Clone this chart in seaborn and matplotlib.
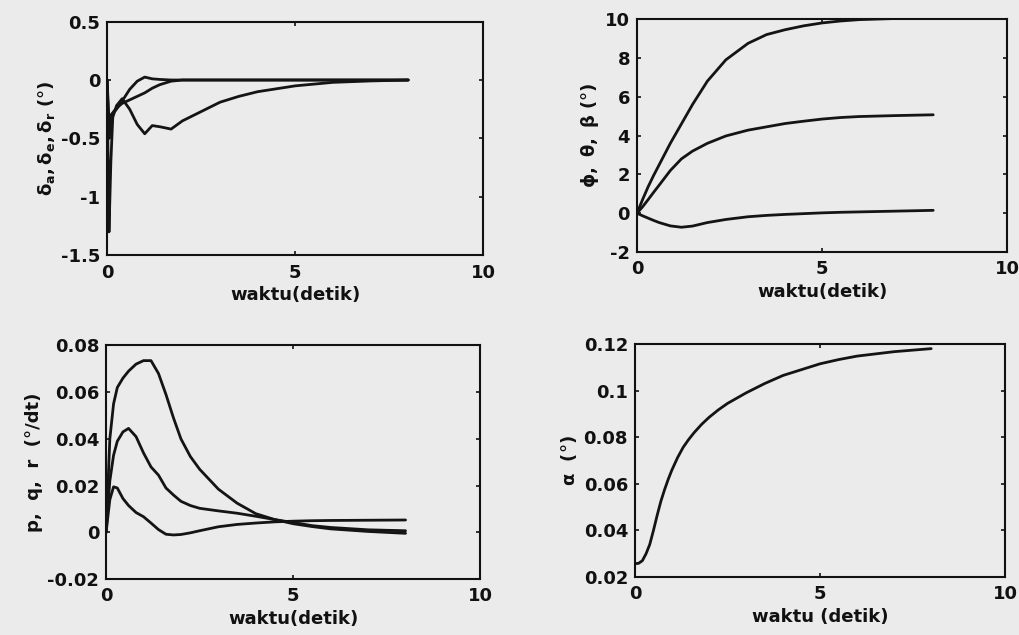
import numpy as np
import pandas as pd
import matplotlib
matplotlib.use("Agg")
import matplotlib.pyplot as plt
import seaborn as sns

# ---- data ----
t1 = [0, 0.05, 0.1, 0.15, 0.25, 0.4, 0.6, 0.8, 1.0, 1.2, 1.4, 1.7, 2.0, 2.5, 3.0, 3.5, 4.0, 5.0, 6.0, 7.0, 8.0]
delta_a = [0, -1.3, -0.7, -0.32, -0.22, -0.16, -0.25, -0.38, -0.46, -0.39, -0.40, -0.42, -0.35, -0.27, -0.19, -0.14, -0.10, -0.05, -0.02, -0.008, 0.0]
delta_e = [0, -0.5, -0.32, -0.29, -0.25, -0.18, -0.08, -0.01, 0.025, 0.01, 0.005, 0.0, 0, 0, 0, 0, 0, 0, 0, 0, 0]
delta_r = [0, -0.35, -0.30, -0.28, -0.24, -0.20, -0.17, -0.14, -0.11, -0.07, -0.04, -0.01, 0, 0, 0, 0, 0, 0, 0, 0, 0]

t2 = [0, 0.15, 0.3, 0.45, 0.6, 0.9, 1.2, 1.5, 1.9, 2.4, 3.0, 3.5, 4.0, 4.5, 5.0, 5.5, 6.0, 7.0, 8.0]
phi = [0, 0.7, 1.36, 1.95, 2.5, 3.6, 4.6, 5.6, 6.8, 7.9, 8.75, 9.2, 9.45, 9.65, 9.8, 9.9, 9.97, 10.03, 10.06]
theta = [0, 0.33, 0.7, 1.08, 1.45, 2.2, 2.8, 3.2, 3.6, 3.98, 4.28, 4.45, 4.62, 4.74, 4.85, 4.93, 4.98, 5.03, 5.07]
beta = [0, -0.13, -0.25, -0.37, -0.48, -0.65, -0.72, -0.66, -0.48, -0.32, -0.18, -0.11, -0.06, -0.02, 0.02, 0.05, 0.07, 0.11, 0.15]

t3 = [0, 0.1, 0.2, 0.3, 0.45, 0.6, 0.8, 1.0, 1.2, 1.4, 1.6, 1.8, 2.0, 2.25, 2.5, 3.0, 3.5, 4.0, 4.5, 5.0, 5.5, 6.0, 7.0, 8.0]
p_rate = [0, 0.04, 0.055, 0.062, 0.066, 0.069, 0.072, 0.0735, 0.0735, 0.068, 0.059, 0.049, 0.04, 0.0325, 0.027, 0.0185, 0.0125, 0.008, 0.0055, 0.0037, 0.0025, 0.0015, 0.0004, -0.0004]
q_rate = [0, 0.022, 0.033, 0.039, 0.043, 0.0445, 0.041, 0.034, 0.028, 0.0245, 0.019, 0.016, 0.0133, 0.0115, 0.0103, 0.0092, 0.0082, 0.0069, 0.0055, 0.0042, 0.0029, 0.0021, 0.0011, 0.0007]
r_rate = [0, 0.014, 0.0195, 0.019, 0.0145, 0.0115, 0.0085, 0.0067, 0.004, 0.0012, -0.0008, -0.0011, -0.0009, -0.0002, 0.0007, 0.0024, 0.0034, 0.004, 0.0045, 0.0048, 0.005, 0.0051, 0.0052, 0.0053]

t4 = [0, 0.1, 0.2, 0.3, 0.4, 0.5, 0.6, 0.7, 0.8, 0.9, 1.0, 1.15, 1.3, 1.45, 1.6, 1.8, 2.0, 2.25, 2.5, 3.0, 3.5, 4.0, 4.5, 5.0, 5.5, 6.0, 7.0, 8.0]
alpha = [0.0257, 0.0259, 0.027, 0.030, 0.034, 0.040, 0.0465, 0.0525, 0.0575, 0.062, 0.066, 0.0712, 0.0756, 0.079, 0.082, 0.0855, 0.0885, 0.0917, 0.0945, 0.099, 0.103, 0.1065, 0.109, 0.1115, 0.1133, 0.1148, 0.1167, 0.118]

xticks = [0, 5, 10]
yticks_tl = [-1.5, -1, -0.5, 0, 0.5]
yticks_tr = [-2, 0, 2, 4, 6, 8, 10]
yticks_bl = [-0.02, 0, 0.02, 0.04, 0.06, 0.08]
yticks_br = [0.02, 0.04, 0.06, 0.08, 0.1, 0.12]

# ---- style ----
sns.set_theme(style="ticks")
paper = "#ebebeb"
ink = "#111111"
plt.rcParams.update({
    "font.family": ["DejaVu Sans"],
    "font.weight": "bold",
    "axes.labelweight": "bold",
    "axes.labelcolor": ink,
    "text.color": ink,
    "mathtext.fontset": "custom",
    "mathtext.rm": "DejaVu Sans:bold",
    "mathtext.it": "DejaVu Sans:bold",
    "mathtext.bf": "DejaVu Sans:bold",
    "axes.edgecolor": ink,
    "axes.linewidth": 1.5,
    "xtick.direction": "in",
    "ytick.direction": "in",
    "xtick.top": True,
    "ytick.right": True,
    "xtick.major.size": 3,
    "ytick.major.size": 3,
    "xtick.major.width": 1.2,
    "ytick.major.width": 1.2,
    "xtick.color": ink,
    "ytick.color": ink,
    "xtick.labelcolor": ink,
    "ytick.labelcolor": ink,
    "xtick.labelsize": 13,
    "ytick.labelsize": 13,
    "axes.labelsize": 13,
    "figure.facecolor": paper,
    "axes.facecolor": paper,
})

fig = plt.figure(figsize=(10.2, 6.35), dpi=100)
ax_tl = fig.add_axes([0.105, 0.598, 0.369, 0.368])
ax_tr = fig.add_axes([0.6245, 0.603, 0.363, 0.367])
ax_bl = fig.add_axes([0.104, 0.088, 0.367, 0.368])
ax_br = fig.add_axes([0.6225, 0.0913, 0.363, 0.367])

lc = "#141414"
lw = 2.0

def draw(ax, t, series):
    for s in series:
        df = pd.DataFrame({"t": t, "v": s})
        sns.lineplot(data=df, x="t", y="v", ax=ax, color=lc, lw=lw, sort=False, estimator=None)

draw(ax_tl, t1, [delta_a, delta_e, delta_r])
draw(ax_tr, t2, [phi, theta, beta])
draw(ax_bl, t3, [p_rate, q_rate, r_rate])
draw(ax_br, t4, [alpha])

def fmt(v):
    return "%g" % v

setups = [
    (ax_tl, yticks_tl, (-1.5, 0.5), r"$\delta_a, \delta_e, \delta_r$ (°)", "waktu(detik)"),
    (ax_tr, yticks_tr, (-2, 10), r"$\phi,\ \theta,\ \beta$ (°)", "waktu(detik)"),
    (ax_bl, yticks_bl, (-0.02, 0.08), "p,  q,  r  (°/dt)", "waktu(detik)"),
    (ax_br, yticks_br, (0.02, 0.12), r"$\alpha$  (°)", "waktu (detik)"),
]
for ax, yt, yl, ylab, xlab in setups:
    ax.set_xlim(0, 10)
    ax.set_ylim(*yl)
    ax.set_xticks(xticks)
    ax.set_xticklabels([fmt(v) for v in xticks])
    ax.set_yticks(yt)
    ax.set_yticklabels([fmt(v) for v in yt])
    ax.tick_params(axis="x", pad=6)
    ax.tick_params(axis="y", pad=5)
    ax.set_xlabel(xlab, labelpad=3, fontweight="bold", color=ink)
    ax.set_ylabel(ylab, labelpad=3, fontweight="bold", color=ink)
    for lab in ax.get_xticklabels() + ax.get_yticklabels():
        lab.set_fontweight("bold")
    for sp in ax.spines.values():
        sp.set_visible(True)

fig.savefig("out.png", dpi=100, facecolor=paper)
